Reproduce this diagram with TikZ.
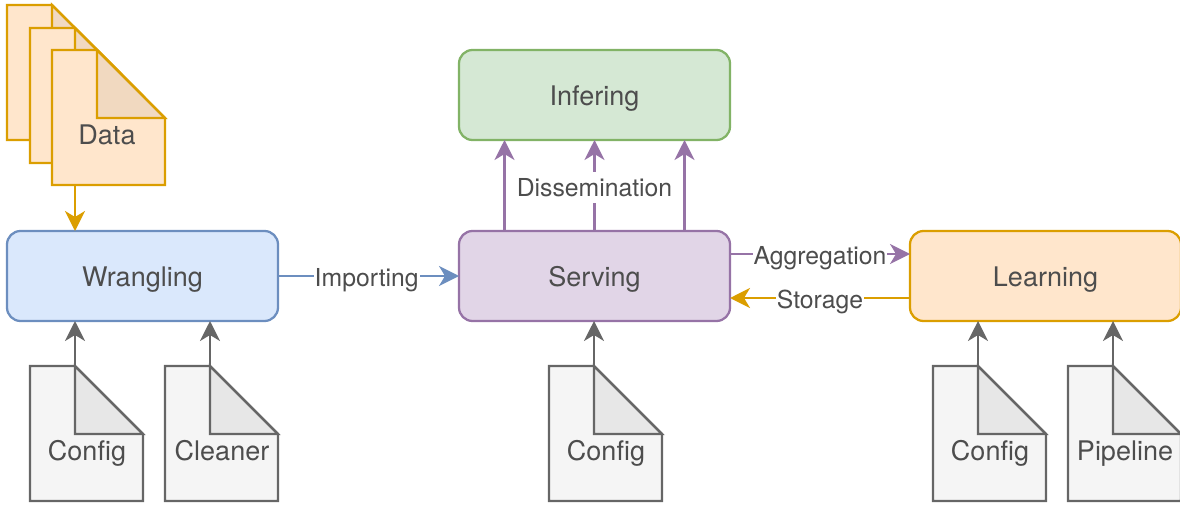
\documentclass[tikz,border=0pt]{standalone}
\usepackage{fontspec}
\setmainfont{TeX Gyre Heros}
\usepackage{xcolor}
\usetikzlibrary{calc,arrows.meta}
\definecolor{ink}{HTML}{4D4D4D}
\definecolor{blueF}{HTML}{DAE8FC}
\definecolor{blueD}{HTML}{6C8EBF}
\definecolor{greenF}{HTML}{D5E8D4}
\definecolor{greenD}{HTML}{82B366}
\definecolor{purpF}{HTML}{E1D5E7}
\definecolor{purpD}{HTML}{9673A6}
\definecolor{orngF}{HTML}{FFE6CC}
\definecolor{orngD}{HTML}{DB9E00}
\definecolor{grayF}{HTML}{F5F5F5}
\definecolor{grayD}{HTML}{666666}
\tikzset{
  lab/.style={text=ink, font=\fontsize{27}{30}\selectfont, inner sep=0pt, text height=20pt, text depth=0pt},
  stage/.style={lab, rounded corners=13.5pt, line width=2.25pt, minimum width=271pt, minimum height=90pt, outer sep=0pt},
  docbody/.style={minimum width=113pt, minimum height=135pt, inner sep=0pt, outer sep=0pt},
  docO/.style={draw=orngD, fill=orngF, line width=2.25pt},
  docG/.style={draw=grayD, fill=grayF, line width=2.25pt},
  fold/.style={fill=black, fill opacity=0.055},
  flow/.style={line width=2.25pt, -{Stealth[length=20pt,width=20pt,inset=6pt]}},
  flowlab/.style={text=ink, font=\fontsize{24.75}{28}\selectfont, fill=white, inner xsep=1pt, inner ysep=6.5pt, text height=18pt, text depth=0pt, yshift=-1pt},
}
\begin{document}
\begin{tikzpicture}[x=1pt,y=-1pt]
  \useasboundingbox (0,0) rectangle (1180,506);
  % stages
  \node[stage,draw=blueD,fill=blueF] (wrangling) at (142.5,276) {Wrangling};
  \node[stage,draw=purpD,fill=purpF] (serving) at (594.5,276) {Serving};
  \node[stage,draw=greenD,fill=greenF] (infering) at (594.5,95) {Infering};
  \node[stage,draw=orngD,fill=orngF] (learning) at (1045.5,276) {Learning};
  % documents
  \foreach \name/\x/\y/\kind in {dataA/7/5/docO,dataB/30/28/docO,dataC/52/50/docO,
      cfgW/30/366/docG,cleaner/165/366/docG,cfgS/549/366/docG,cfgL/933/366/docG,pipeline/1068/366/docG} {
    \node[docbody] (\name) at ({\x+56.5},{\y+67.5}) {};
    \draw[\kind] (\name.north west) -- ++(45,0) -- ++(68,68) -- ++(0,67) -- ++(-113,0) -- cycle;
    \draw[\kind,fold] ($(\name.north west)+(45,0)$) coordinate (\name-top) -- ++(0,68) -- ++(68,0) -- cycle;
  }
  \foreach \name/\dx/\txt in {dataC/-1.5/Data,cfgW/0.5/Config,cleaner/0.5/Cleaner,cfgS/0.5/Config,cfgL/0.5/Config,pipeline/0.5/Pipeline}
    \node[lab] (\name-txt) at ($(\name.center)+(\dx,17)$) {\txt};
  % connectors
  \coordinate (dataOut) at ($(dataC.south)+(-33.5,0)$);
  \draw[flow,orngD] (dataOut) -- (dataOut |- wrangling.north);
  \foreach \name/\to in {cfgW/wrangling,cleaner/wrangling,cfgS/serving,cfgL/learning,pipeline/learning}
    \draw[flow,grayD] (\name-top) -- (\name-top |- \to.south);
  \draw[flow,blueD] (wrangling) -- (serving) node[flowlab,pos=0.49] (importing) {Importing};
  \draw[flow,purpD] (serving.north) -- (infering.south) node[flowlab,pos=0.485] (dissem) {Dissemination};
  \foreach \dx in {-90,90}
    \draw[flow,purpD] ([xshift=\dx pt]serving.north) -- ([xshift=\dx pt]infering.south);
  \draw[flow,purpD] ([yshift=22pt]serving.east) -- ([yshift=22pt]learning.west) node[flowlab,midway] (aggregation) {Aggregation};
  \draw[flow,orngD] ([yshift=-22pt]learning.west) -- ([yshift=-22pt]serving.east) node[flowlab,midway] (storage) {Storage};
\end{tikzpicture}
\end{document}
